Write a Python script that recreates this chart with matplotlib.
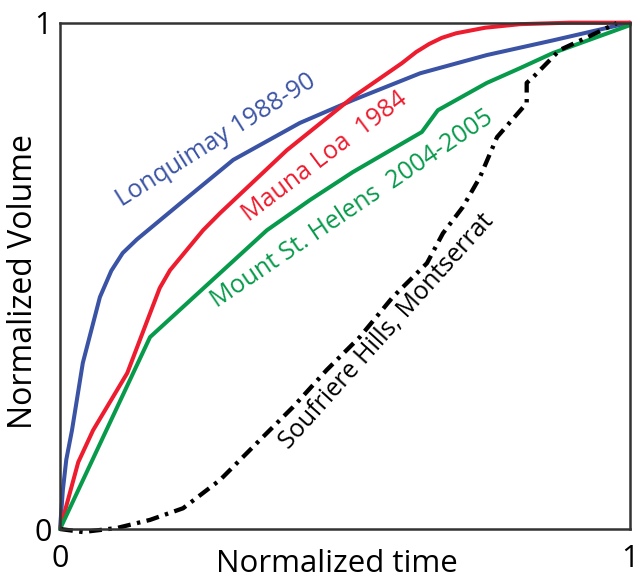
import matplotlib
matplotlib.use("Agg")
import matplotlib.pyplot as plt

plt.rcParams['font.family'] = ['Open Sans', 'DejaVu Sans']

# normalized eruption curves (time, volume)
lonq_t = [0, 0.005, 0.011, 0.021, 0.040, 0.070, 0.090, 0.110, 0.135, 0.165, 0.210, 0.304, 0.421, 0.514, 0.632, 0.749, 0.865, 1.0]
lonq_v = [0, 0.077, 0.137, 0.195, 0.328, 0.458, 0.510, 0.545, 0.572, 0.600, 0.642, 0.729, 0.802, 0.847, 0.900, 0.936, 0.965, 1.0]

mauna_t = [0, 0.032, 0.058, 0.118, 0.158, 0.175, 0.193, 0.251, 0.281, 0.398, 0.514, 0.600, 0.625, 0.648, 0.670, 0.695, 0.746, 0.807, 0.895, 1.0]
mauna_v = [0, 0.132, 0.195, 0.308, 0.426, 0.476, 0.511, 0.590, 0.624, 0.748, 0.853, 0.920, 0.942, 0.958, 0.970, 0.979, 0.990, 0.997, 1.0, 1.0]

msh_t = [0, 0.158, 0.363, 0.439, 0.514, 0.635, 0.663, 0.749, 0.807, 0.865, 1.0]
msh_v = [0, 0.379, 0.590, 0.650, 0.705, 0.784, 0.827, 0.881, 0.910, 0.940, 0.995]

shv_t = [0, 0.040, 0.100, 0.158, 0.216, 0.281, 0.351, 0.409, 0.468, 0.526, 0.584, 0.644, 0.672, 0.707, 0.737,
         0.767, 0.819, 0.819, 0.830, 0.877, 0.925, 0.977]
shv_v = [0, -0.006, 0.002, 0.018, 0.041, 0.097, 0.176, 0.241, 0.314, 0.379, 0.458, 0.525, 0.584, 0.636, 0.695,
         0.774, 0.841, 0.881, 0.892, 0.946, 0.971, 0.999]

BLUE = '#3a53a4'
RED = '#ed1c2e'
GREEN = '#079a4b'

fig = plt.figure(figsize=(6.44, 5.81), dpi=100)
ax = fig.add_axes([0.0932, 0.0895, 0.8848, 0.8715])

lw = 2.9
ax.plot(lonq_t, lonq_v, color=BLUE, lw=lw, solid_capstyle='round', solid_joinstyle='round', clip_on=False)
ax.plot(mauna_t, mauna_v, color=RED, lw=lw, solid_capstyle='round', solid_joinstyle='round', clip_on=False)
ax.plot(msh_t, msh_v, color=GREEN, lw=lw, solid_capstyle='round', solid_joinstyle='round', clip_on=False)
ax.plot(shv_t, shv_v, color='black', lw=3.1, dashes=(3.0, 1.5, 0.8, 1.5), clip_on=False)

ax.set_xlim(0, 1)
ax.set_ylim(0, 1)

# curve labels
kw = dict(fontsize=18, ha='left', va='baseline', rotation_mode='anchor')
ax.text(0.109, 0.636, 'Lonquimay 1988-90', color=BLUE, rotation=32, **kw)
ax.text(0.332, 0.606, 'Mauna Loa  1984', color=RED, rotation=37, **kw)
ax.text(0.276, 0.436, 'Mount St. Helens  2004-2005', color=GREEN, rotation=34, **kw)
ax.text(0.402, 0.156, 'Soufriere Hills, Montserrat', color='black', rotation=48, **kw)

ax.set_xticks([0, 1])
ax.set_xticklabels(['0', '1'])
ax.set_yticks([0, 1])
ax.set_yticklabels(['0', '1'])
ax.tick_params(length=0, labelsize=22)
ax.tick_params(axis='x', pad=11)
ax.tick_params(axis='y', pad=6)

for s in ax.spines.values():
    s.set_linewidth(1.8)
    s.set_color('#333333')

ax.set_xlabel('Normalized time', fontsize=22.5)
ax.set_ylabel('Normalized Volume', fontsize=23)
ax.xaxis.set_label_coords(0.486, -0.040, transform=ax.transAxes)
ax.xaxis.label.set_va('top')
ax.yaxis.set_label_coords(-0.036, 0.488, transform=ax.transAxes)

fig.savefig('out.png', dpi=100)
